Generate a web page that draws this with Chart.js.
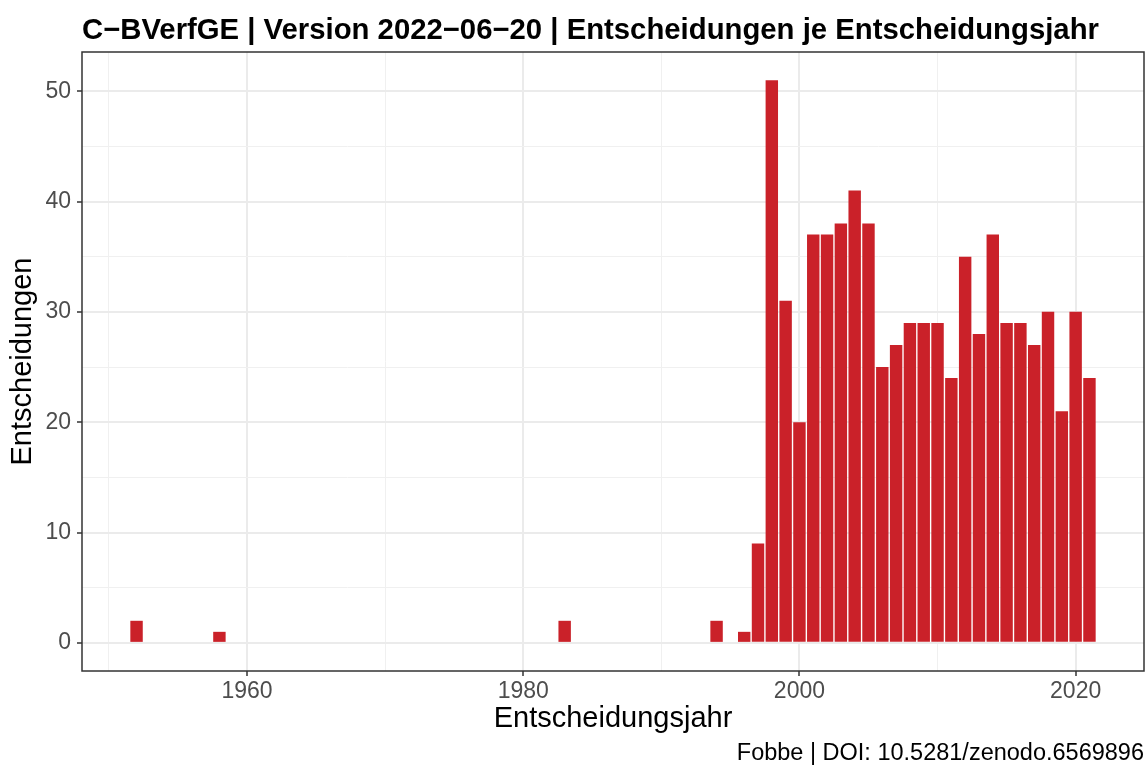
<!DOCTYPE html>
<html lang="de">
<head>
<meta charset="utf-8">
<title>C-BVerfGE | Entscheidungen je Entscheidungsjahr</title>
<script src="https://cdn.jsdelivr.net/npm/chart.js@4.4.1/dist/chart.umd.min.js"></script>
<style>
  html, body { margin: 0; padding: 0; background: #fff; }
  canvas { display: block; }
</style>
</head>
<body>
<canvas id="grafico-jahre" width="1146" height="767"></canvas>
<script>
// Daten: Entscheidungen je Entscheidungsjahr
const jahre = [1952, 1958, 1983, 1994, 1996, 1997, 1998, 1999, 2000, 2001, 2002, 2003, 2004, 2005,
  2006, 2007, 2008, 2009, 2010, 2011, 2012, 2013, 2014, 2015, 2016, 2017, 2018, 2019, 2020, 2021];
const entscheidungen = [2, 1, 2, 2, 1, 9, 51, 31, 20, 37, 37, 38, 41, 38,
  25, 27, 29, 29, 29, 24, 35, 28, 37, 29, 29, 27, 30, 21, 30, 24];

const xTicksMajor = [1960, 1980, 2000, 2020];
const xTicksMinor = [1950, 1970, 1990, 2010];
const yTicksMajor = [0, 10, 20, 30, 40, 50];
const yTicksMinor = [5, 15, 25, 35, 45];

const titel = 'C\u2212BVerfGE | Version 2022\u221206\u221220 | Entscheidungen je Entscheidungsjahr';
const quelle = 'Fobbe | DOI: 10.5281/zenodo.6569896';

const SCHRIFT = '"Liberation Sans", Arial, Helvetica, sans-serif';
Chart.defaults.font.family = SCHRIFT;

function alleTicks(major, minor) {
  return major.concat(minor).sort((a, b) => a - b).map(v => ({ value: v }));
}

// ggplot-artiger Rahmen plus Titel und Quellenangabe
const rahmenPlugin = {
  id: 'rahmen',
  afterDraw(chart) {
    const { ctx, chartArea: a } = chart;
    ctx.save();
    ctx.strokeStyle = '#333333';
    ctx.lineWidth = 1.5;
    ctx.strokeRect(a.left, a.top, a.right - a.left, a.bottom - a.top);

    ctx.fillStyle = '#000';
    ctx.textBaseline = 'alphabetic';
    ctx.font = 'bold 29.3px ' + SCHRIFT;
    ctx.textAlign = 'left';
    ctx.fillText(titel, a.left, 39);

    ctx.font = '23.5px ' + SCHRIFT;
    ctx.textAlign = 'right';
    ctx.fillText(quelle, a.right, 760);
    ctx.restore();
  }
};

const gitterFarbe = (major) => (ctx) =>
  ctx.tick && major.includes(ctx.tick.value) ? '#ebebeb' : '#f0f0f0';
const gitterBreite = (major) => (ctx) =>
  ctx.tick && major.includes(ctx.tick.value) ? 2 : 1;
const tickFarbe = (major) => (ctx) =>
  ctx.tick && major.includes(ctx.tick.value) ? '#333333' : 'rgba(0,0,0,0)';

new Chart(document.getElementById('grafico-jahre'), {
  type: 'bar',
  data: {
    datasets: [{
      label: 'Entscheidungen',
      data: jahre.map((j, i) => ({ x: j, y: entscheidungen[i] })),
      backgroundColor: '#ca2129',
      borderWidth: 0,
      barPercentage: 0.9,
      categoryPercentage: 1.0
    }]
  },
  options: {
    responsive: false,
    animation: false,
    devicePixelRatio: 1,
    layout: { padding: { top: 52, right: 2, bottom: 0, left: 0 } },
    plugins: {
      legend: { display: false },
      tooltip: { enabled: false }
    },
    scales: {
      x: {
        type: 'linear',
        min: 1948.05,
        max: 2024.95,
        offset: false,
        afterBuildTicks: (scale) => { scale.ticks = alleTicks(xTicksMajor, xTicksMinor); },
        afterFit: (scale) => { scale.height = 96; },
        grid: {
          offset: false,
          color: gitterFarbe(xTicksMajor),
          lineWidth: gitterBreite(xTicksMajor),
          tickColor: tickFarbe(xTicksMajor),
          tickWidth: 1.5,
          tickLength: 5
        },
        border: { display: false },
        ticks: {
          autoSkip: false,
          maxRotation: 0,
          padding: 4,
          color: '#4d4d4d',
          font: { size: 23, lineHeight: 1 },
          callback: (v) => xTicksMajor.includes(v) ? String(v) : ''
        },
        title: {
          display: true,
          text: 'Entscheidungsjahr',
          color: '#000',
          font: { size: 29, lineHeight: 1 },
          padding: { top: 0, bottom: 34 }
        }
      },
      y: {
        min: -2.55,
        max: 53.55,
        afterBuildTicks: (scale) => { scale.ticks = alleTicks(yTicksMajor, yTicksMinor); },
        afterFit: (scale) => { scale.width = 82; },
        grid: {
          color: gitterFarbe(yTicksMajor),
          lineWidth: gitterBreite(yTicksMajor),
          tickColor: tickFarbe(yTicksMajor),
          tickWidth: 1.5,
          tickLength: 5
        },
        border: { display: false },
        ticks: {
          padding: 6,
          color: '#4d4d4d',
          font: { size: 23, lineHeight: 1 },
          callback: (v) => yTicksMajor.includes(v) ? String(v) : ''
        },
        title: {
          display: true,
          text: 'Entscheidungen',
          color: '#000',
          font: { size: 29, lineHeight: 1 },
          padding: { top: 8, bottom: 0 }
        }
      }
    }
  },
  plugins: [rahmenPlugin]
});
</script>
</body>
</html>
